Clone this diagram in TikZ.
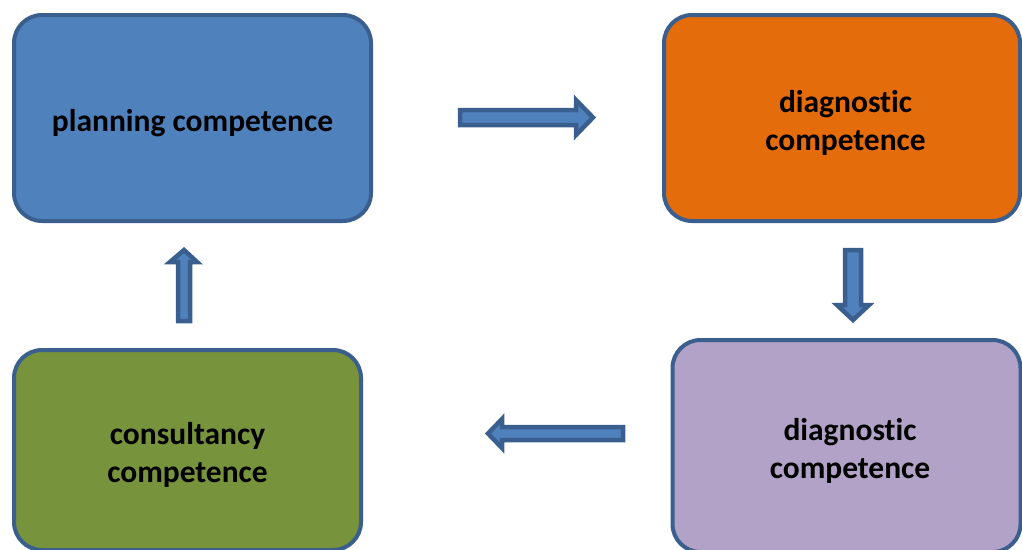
\documentclass[tikz,border=0pt]{standalone}
\usepackage{fontspec}
\setmainfont[Ligatures={NoCommon,NoRare,NoContextual}]{Carlito}
\usepackage{tikz}
\usetikzlibrary{positioning}
\definecolor{Edge}{HTML}{3A5F8E}
\definecolor{Blue}{HTML}{4F81BD}
\definecolor{Orange}{HTML}{E46C0A}
\definecolor{Lilac}{HTML}{B3A2C7}
\definecolor{Olive}{HTML}{77933C}
\newcommand{\lift}{\rule{0pt}{32pt}}

\begin{document}
\begin{tikzpicture}[
  x=1pt,y=-1pt,
  box/.style={draw=Edge,fill=#1,line width=4pt,rounded corners=28pt,align=center,
    font=\bfseries\fontsize{31.5}{38}\selectfont,text=black,inner sep=0pt},
  blockarrow/.style={draw=Edge,fill=Blue,line width=4.5pt}
]
\useasboundingbox (0,0) rectangle (1022,549);
\clip (0,0) rectangle (1022,549);
\node[box=Blue,minimum width=357pt,minimum height=206pt] (plan) at (192.5,118) {\lift planning competence};
\node[box=Orange,minimum width=356pt,minimum height=206pt] (diag) at (842,118) {\lift\hspace*{7pt}diagnostic\\\hspace*{7pt}competence};
\node[box=Lilac,minimum width=348pt,minimum height=212pt] (diagb) at (846.5,446) {\lift\hspace*{7pt}diagnostic\\\hspace*{7pt}competence};
\node[box=Olive,minimum width=347pt,minimum height=200pt] (cons) at (187.5,450) {\lift consultancy\\competence};

% block arrows round the cycle
\draw[blockarrow] (460,110)--(576,110)--(576,100)--(593,117.5)--(576,135)--(576,125)--(460,125)--cycle;
\draw[blockarrow] (845,250)--(861,250)--(861,305)--(869,305)--(853,320)--(837,305)--(845,305)--cycle;
\draw[blockarrow] (623,427)--(502,427)--(502,419)--(488,433.5)--(502,448)--(502,440)--(623,440)--cycle;
\draw[blockarrow] (178,321)--(178,262)--(170,262)--(184,250)--(197,262)--(190,262)--(190,321)--cycle;
\end{tikzpicture}
\end{document}
